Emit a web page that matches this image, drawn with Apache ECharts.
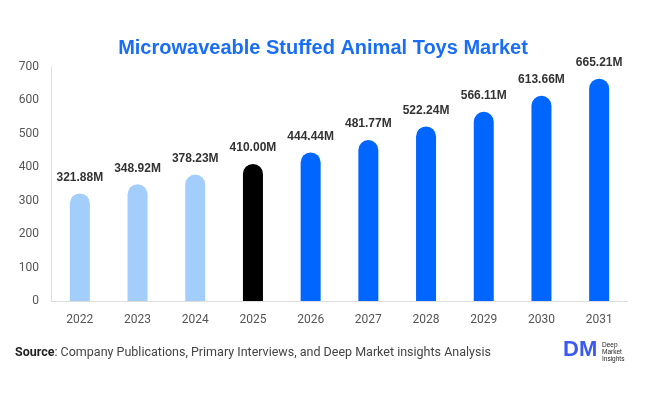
<!DOCTYPE html>
<html><head><meta charset="utf-8">
<script src="https://cdn.jsdelivr.net/npm/echarts@6/dist/echarts.min.js"></script>
<style>html,body{margin:0;padding:0;background:#fff}#c{width:646px;height:394px}</style>
</head><body><div id="c"></div>
<script>
const categories = ['2022','2023','2024','2025','2026','2027','2028','2029','2030','2031'];
const values = [321.88, 348.92, 378.23, 410.00, 444.44, 481.77, 522.24, 566.11, 613.66, 665.21];
const barColors = ['#a3cefc','#a3cefc','#a3cefc','#000000','#0066ff','#0066ff','#0066ff','#0066ff','#0066ff','#0066ff'];
const yTicks = [0,100,200,300,400,500,600,700];

const chart = echarts.init(document.getElementById('c'), null, {renderer:'canvas'});
chart.setOption({
  animation:false,
  title:{text:'Microwaveable Stuffed Animal Toys Market', left:'center', top:33,
    textStyle:{color:'#1a6df5', fontSize:20, fontWeight:'bold', fontFamily:'"Liberation Sans", Arial, sans-serif'}},
  grid:{left:51, right:18, top:67, bottom:93},
  xAxis:{type:'category', data:categories,
    axisLine:{lineStyle:{color:'#dddddd'}}, axisTick:{show:false},
    axisLabel:{color:'#555', fontSize:12, margin:13, fontFamily:'Roboto, "Liberation Sans"'}},
  yAxis:{type:'value', min:0, max:700, interval:100,
    axisLine:{show:true, lineStyle:{color:'#dddddd'}}, axisTick:{show:false}, splitLine:{show:false},
    axisLabel:{color:'#555', fontSize:12, margin:12, fontFamily:'Roboto, "Liberation Sans"'}},
  series:[{type:'bar', barWidth:20,
    data: values.map((v,i)=>({value:v, itemStyle:{color:barColors[i], borderRadius:[10,10,0,0]}})),
    label:{show:true, position:'top', distance:10, color:'#333', fontSize:12, fontWeight:'bold',
      fontFamily:'"Liberation Sans", Arial, sans-serif', formatter:p=>p.value.toFixed(2)+'M'}}],
  graphic:[
    {type:'text', left:15, top:346, style:{rich:{b:{fontWeight:'bold',fontSize:12.5,fill:'#222',fontFamily:'Roboto'},n:{fontSize:12.5,fill:'#444',fontFamily:'Roboto'}},
      text:'{b|Source}{n|: Company Publications, Primary Interviews, and Deep Market insights Analysis}'}},
    {type:'text', left:563, top:339, style:{text:'DM', fill:'#3b5bf0', fontSize:22, fontWeight:'bold', fontFamily:'"Liberation Sans"'}},
    {type:'text', left:602, top:342, style:{text:'Deep\nMarket\nInsights', fill:'#222', fontSize:6.5, lineHeight:7, fontFamily:'"Liberation Sans"'}}
  ]
});
</script></body></html>
